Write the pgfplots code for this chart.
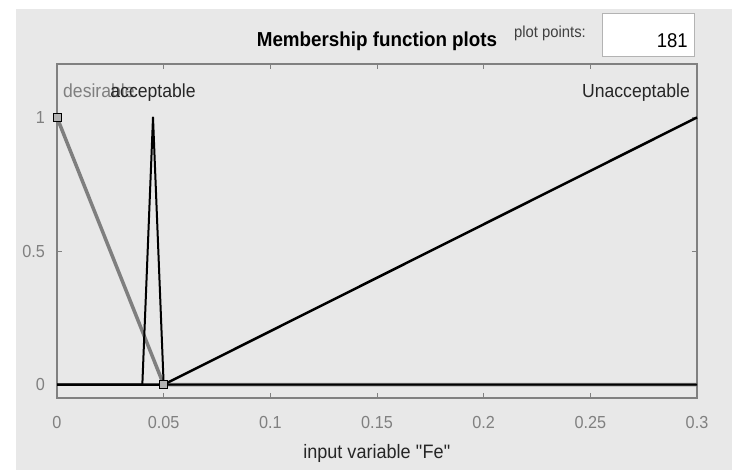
\documentclass[border=0pt]{standalone}
\usepackage{fontspec}
\setmainfont{Liberation Sans}[FakeStretch=0.93]
\usepackage{pgfplots}
\pgfplotsset{compat=1.18}
\definecolor{bg}{HTML}{E8E8E8}
\definecolor{axgray}{HTML}{808080}
\definecolor{mfgray}{HTML}{7F7F7F}
\begin{document}
\begin{tikzpicture}[x=1bp,y=1bp]
\fill[white] (0,0) rectangle (732,470);
\useasboundingbox (0,0) rectangle (732,470);
\fill[bg] (16,0) rectangle (732,461);
\begin{axis}[
  at={(57bp,72bp)}, anchor=south west,
  scale only axis, width=640bp, height=334bp,
  xmin=0, xmax=0.3, ymin=-0.05, ymax=1.2,
  xtick={0,0.05,0.1,0.15,0.2,0.25,0.3},
  xticklabels={0,0.05,0.1,0.15,0.2,0.25,0.3},
  ytick={0,0.5,1}, yticklabels={0,0.5,1},
  tick align=inside, major tick length=5bp,
  axis line style={axgray, line width=1.2bp},
  every tick/.style={axgray, line width=1bp},
  tick label style={font=\fontsize{17.5}{17.5}\selectfont, text=axgray},
  xticklabel style={anchor=center, inner sep=0pt, yshift=-25bp},
  yticklabel style={anchor=east, inner sep=0pt, xshift=-12bp},
  xlabel={input variable \textquotedbl Fe\textquotedbl},
  xlabel style={font=\fontsize{19.5}{19.5}\selectfont, text=black!85, at={(axis description cs:0.5,0)}, anchor=center, inner sep=0pt, yshift=-55bp},
  title={Membership function plots},
  title style={font=\bfseries\fontsize{20.3}{20.3}\selectfont, at={(axis description cs:0.5,1)}, anchor=base, inner sep=0pt, yshift=12bp},
  clip=false,
]
\addplot[mfgray, line width=3.5bp, line join=round] coordinates {(0,1) (0.05,0) (0.3,0)};
\addplot[black, line width=2bp, line join=round] coordinates {(0,0) (0.04,0) (0.045,1) (0.05,0) (0.3,0)};
\addplot[black, line width=2.5bp, line join=round] coordinates {(0,0) (0.05,0) (0.3,1)};
\addplot[only marks, mark=square*, mark size=4bp, mark options={fill=mfgray!60, draw=black, line width=0.8bp}] coordinates {(0,1) (0.05,0)};
\node[anchor=base west, inner sep=0pt, xshift=6bp, text=mfgray, font=\fontsize{19}{19}\selectfont] at (axis cs:0,1.073) {desirable};
\node[anchor=base, inner sep=0pt, text=black!85, font=\fontsize{19}{19}\selectfont] at (axis cs:0.045,1.073) {acceptable};
\node[anchor=base east, inner sep=0pt, xshift=-7bp, text=black!85, font=\fontsize{19}{19}\selectfont] at (axis cs:0.3,1.073) {Unacceptable};
\end{axis}
\draw[axgray!60, fill=white, line width=1bp] (602,413) rectangle (694,456);
\node[anchor=base east, inner sep=0pt, font=\fontsize{20}{20}\selectfont] at (688,422) {181};
\node[inner sep=0pt, text=black!75, font=\fontsize{16}{16}\selectfont] at (550,437) {plot points:};
\end{tikzpicture}
\end{document}
